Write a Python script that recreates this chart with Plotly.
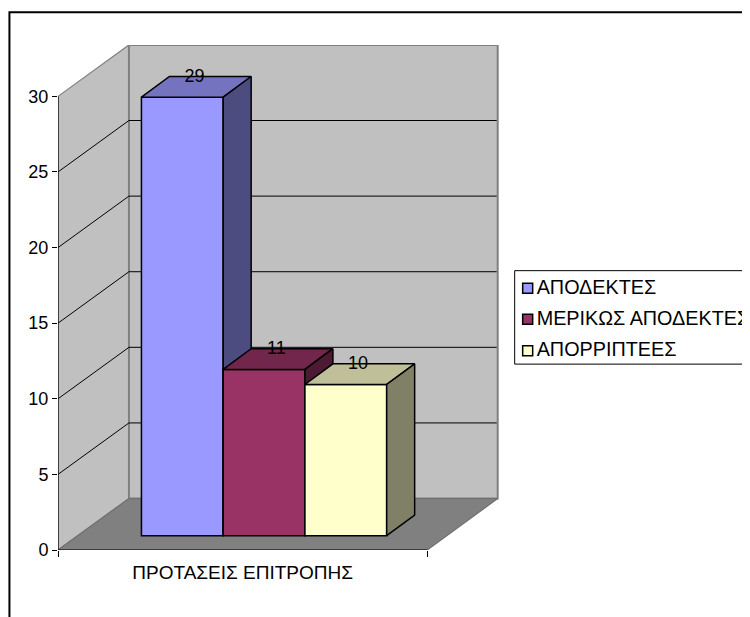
import plotly.graph_objects as go

# ---- data ----
CATEGORY = "ΠΡΟΤΑΣΕΙΣ ΕΠΙΤΡΟΠΗΣ"
SERIES_NAMES = ["ΑΠΟΔΕΚΤΕΣ", "ΜΕΡΙΚΩΣ ΑΠΟΔΕΚΤΕΣ", "ΑΠΟΡΡΙΠΤΕΕΣ"]
SERIES_VALUES = [29, 11, 10]
Y_TICKS = [0, 5, 10, 15, 20, 25, 30]

# ---- style ----
SERIES_COLORS = [(153, 153, 255), (153, 51, 102), (255, 255, 204)]
WALL = "#C0C0C0"
FLOOR = "#808080"
EDGE = "#808080"
FONT = "Liberation Sans"
TICK_SIZE = 18
CAT_SIZE = 19
LEGEND_SIZE = 19.8

# ---- layout geometry (page pixels; the page body adds an 8 px inset) ----
INSET = 8
W, H = 750, 617
BLEED = 20                         # figure runs past the page's right edge
FIG_W, FIG_H = W + BLEED - INSET, H - INSET
PL, PT, PB = 57.5, 44.7, 550.0     # plot area left, top, bottom
PR = W + BLEED
WALL_RIGHT = 497.5
PX_PER_UNIT = 15.13
Y_MAX = (PB - PT) / PX_PER_UNIT
X_MAX = PR - PL
BACK_R = WALL_RIGHT - PL

FRONT_W = 369.5               # width of the front floor edge (axis units)
WALL_DX = 71.0                # depth shift of the back wall
WALL_DY = 51.5 / PX_PER_UNIT
BAR_LEFT = 83.5               # left of first bar
BAR_W = 81.8
BAR_BASE = 14.3 / PX_PER_UNIT
BAR_DX = 28.0
BAR_DY = 20.7 / PX_PER_UNIT


def shade(rgb, k):
    return "rgb({},{},{})".format(*[round(c * k) for c in rgb])


def hexrgb(rgb):
    return "rgb({},{},{})".format(*rgb)


def px2x(px):
    return px - PL


def px2y(py):
    return (PB - py) / PX_PER_UNIT


def poly(xs, ys, fill, line, width=1.0, axes=("x", "y")):
    return go.Scatter(
        x=list(xs) + [xs[0]], y=list(ys) + [ys[0]], mode="lines", fill="toself",
        fillcolor=fill, line=dict(color=line, width=width), hoverinfo="skip",
        showlegend=False, cliponaxis=False, xaxis=axes[0], yaxis=axes[1],
    )


def seg(xs, ys, color, width=1.0, axes=("x", "y")):
    return go.Scatter(
        x=xs, y=ys, mode="lines", line=dict(color=color, width=width), hoverinfo="skip",
        showlegend=False, cliponaxis=False, xaxis=axes[0], yaxis=axes[1],
    )


fig = go.Figure()

top_tick = max(Y_TICKS)
# left wall
fig.add_trace(poly([0, WALL_DX, WALL_DX, 0], [0, WALL_DY, top_tick + WALL_DY, top_tick], WALL, EDGE, 1.2))
# back wall
fig.add_trace(poly([WALL_DX, BACK_R, BACK_R, WALL_DX],
                   [WALL_DY, WALL_DY, top_tick + WALL_DY, top_tick + WALL_DY], WALL, EDGE, 2))
# floor
fig.add_trace(poly([0, FRONT_W, BACK_R, WALL_DX], [0, 0, WALL_DY, WALL_DY], FLOOR, "#707070", 1.2))
# gridlines
for t in Y_TICKS[1:-1]:
    fig.add_trace(seg([0, WALL_DX, BACK_R - 1], [t, t + WALL_DY, t + WALL_DY], "#000000", 1))
# axis lines
fig.add_trace(seg([0, 0], [0, top_tick], "#000000", 1.2))
fig.add_trace(seg([0, FRONT_W], [0, 0], "#000000", 1.2))

# bars: one overlaid subplot each, so that nearer faces hide farther ones
for i, (name, val, col) in enumerate(zip(SERIES_NAMES, SERIES_VALUES, SERIES_COLORS)):
    ax = ("x%d" % (i + 2), "y%d" % (i + 2))
    xl = BAR_LEFT + i * BAR_W
    xr = xl + BAR_W
    top = BAR_BASE + val
    fig.add_trace(go.Bar(x=[xl + BAR_W / 2], y=[val], base=[BAR_BASE], width=[BAR_W], name=name,
                         marker=dict(color=hexrgb(col), line=dict(color="#000000", width=1.5)),
                         showlegend=False, xaxis=ax[0], yaxis=ax[1], cliponaxis=False))
    fig.add_trace(poly([xl, xr, xr + BAR_DX, xl + BAR_DX],
                       [top, top, top + BAR_DY, top + BAR_DY], shade(col, 0.75), "#000000", 1.5, ax))
    fig.add_trace(poly([xr, xr + BAR_DX, xr + BAR_DX, xr],
                       [BAR_BASE, BAR_BASE + BAR_DY, top + BAR_DY, top], shade(col, 0.5), "#000000", 1.5, ax))

# value labels and legend rows, on the topmost subplot
last = ("x%d" % (len(SERIES_VALUES) + 1), "y%d" % (len(SERIES_VALUES) + 1))
fig.add_trace(go.Scatter(
    x=[BAR_LEFT + i * BAR_W + BAR_W / 2 + BAR_DX * 0.44 for i in range(len(SERIES_VALUES))],
    y=[BAR_BASE + v + BAR_DY - 0.05 for v in SERIES_VALUES],
    text=[str(v) for v in SERIES_VALUES], mode="text", textposition="middle center",
    textfont=dict(family=FONT, size=TICK_SIZE, color="#000000"),
    hoverinfo="skip", showlegend=False, cliponaxis=False, xaxis=last[0], yaxis=last[1],
))
LEGEND_KEY_ROWS_PX = [288.0, 319.0, 350.7]
LEGEND_TEXT_ROWS_PX = [288.5, 319.5, 350.5]
fig.add_trace(go.Scatter(
    x=[px2x(527.5)] * 3, y=[px2y(p) for p in LEGEND_KEY_ROWS_PX], mode="markers",
    marker=dict(symbol="square", size=10, color=[hexrgb(c) for c in SERIES_COLORS],
                line=dict(color="#000000", width=1.5)),
    hoverinfo="skip", showlegend=False, cliponaxis=False, xaxis=last[0], yaxis=last[1],
))
fig.add_trace(go.Scatter(
    x=[px2x(536.5)] * 3, y=[px2y(p) for p in LEGEND_TEXT_ROWS_PX],
    text=SERIES_NAMES, mode="text", textposition="middle right",
    textfont=dict(family=FONT, size=LEGEND_SIZE, color="#000000"),
    hoverinfo="skip", showlegend=False, cliponaxis=False, xaxis=last[0], yaxis=last[1],
))


def paper_x(px):
    return (px - PL) / (PR - PL)


def paper_y(py):
    return (PB - py) / (PB - PT)


shapes = [
    # outer chart frame (runs off the page at right and bottom)
    dict(type="rect", xref="paper", yref="paper", x0=paper_x(8.9), x1=paper_x(W + BLEED + 20),
         y0=paper_y(H + 20), y1=paper_y(12), line=dict(color="#000000", width=2), layer="below"),
    # legend frame (runs off the page at right)
    dict(type="rect", xref="paper", yref="paper", x0=paper_x(514.5), x1=paper_x(W + BLEED + 20),
         y0=paper_y(364), y1=paper_y(270.5), line=dict(color="#000000", width=1), layer="below"),
]

layout = dict(
    width=FIG_W, height=FIG_H, autosize=False, showlegend=False, barmode="overlay",
    paper_bgcolor="#FFFFFF", plot_bgcolor="rgba(0,0,0,0)",
    margin=dict(l=PL - INSET, r=0, t=PT - INSET, b=H - PB, pad=0),
    font=dict(family=FONT, size=TICK_SIZE, color="#000000"),
    shapes=shapes,
    xaxis=dict(range=[0, X_MAX], tickmode="array", tickvals=[FRONT_W / 2], ticktext=[CATEGORY],
               ticklen=0, ticks="", showgrid=False, zeroline=False, showline=False,
               ticklabelstandoff=9, tickfont=dict(family=FONT, size=CAT_SIZE),
               minor=dict(tickmode="array", tickvals=[0, FRONT_W], ticks="outside", ticklen=6,
                          tickcolor="#000000", tickwidth=1, showgrid=False)),
    yaxis=dict(range=[0, Y_MAX], tickmode="array", tickvals=Y_TICKS, ticks="outside", ticklen=5,
               tickcolor="#000000", tickwidth=1, showgrid=False, zeroline=False, showline=False,
               tickfont=dict(family=FONT, size=TICK_SIZE)),
)
for i in range(len(SERIES_VALUES)):
    n = i + 2
    layout["xaxis%d" % n] = dict(range=[0, X_MAX], overlaying="x", visible=False, anchor="y")
    layout["yaxis%d" % n] = dict(range=[0, Y_MAX], overlaying="y", visible=False, anchor="x")
fig.update_layout(**layout)

fig.write_html("out.html")
